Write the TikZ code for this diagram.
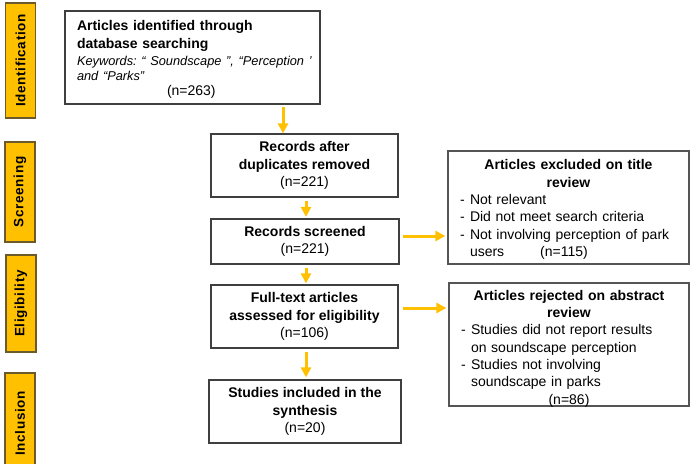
\documentclass[tikz,border=0pt]{standalone}
\usepackage{fontspec}
\setmainfont{Liberation Sans}
\usetikzlibrary{arrows.meta}
\definecolor{gold}{HTML}{FFC000}
\definecolor{sideborder}{HTML}{6B5A2A}
\definecolor{boxborder}{HTML}{3F3F3F}
\definecolor{rboxborder}{HTML}{555555}
\setlength{\parindent}{0pt}
\frenchspacing
\newcommand{\dsh}{\makebox[10pt][l]{-}}
\newcommand{\ind}{\hspace*{10pt}}
\begin{document}
\begin{tikzpicture}[x=1pt,y=-1pt,
  side/.style={draw=sideborder, fill=gold, line width=1.5pt, rotate=90, inner sep=0pt,
    minimum height=30pt, font=\bfseries\fontsize{13.5}{14}\selectfont\addfontfeature{LetterSpace=5}},
  bx/.style={draw=boxborder, line width=1.2pt, inner sep=0pt, align=center,
    font=\bfseries\fontsize{14}{17.5}\selectfont},
  frame/.style={draw=#1, line width=1.2pt, inner sep=0pt},
  rtxt/.style={inner sep=0pt, align=left, font=\fontsize{14}{17.3}\selectfont},
  arr/.style={draw=gold, line width=3pt, -{Triangle[width=10pt,length=10pt]}}]
\useasboundingbox (0,0) rectangle (693,463);
% side labels
\node[side, minimum width=115pt] (sid) at (20.5,60.5) {Identification};
\node[side, minimum width=100pt] (sscr) at (20,192) {Screening};
\node[side, minimum width=97pt] (selg) at (21,303.5) {Eligibility};
\node[side, minimum width=101pt] (sinc) at (20,423.5) {Inclusion};
% main column
\node[frame=boxborder, minimum width=255pt, minimum height=93pt] (b1) at (192.5,57.5) {};
\node[rtxt, text width=240pt] (t1) at (197,59.5) {%
  {\bfseries\fontsize{14}{17.5}\selectfont Articles identified through\\database searching\par}%
  \vspace{2pt}%
  {\itshape\fontsize{12.8}{15}\selectfont\frenchspacing Keywords: “ Soundscape ”, “Perception ’\\and “Parks”\par}%
  {\fontsize{14}{15}\selectfont\hspace*{90pt}(n=263)\par}};
\node[bx, minimum width=187pt, minimum height=63pt] (b2) at (304.5,165.5)
  {Records after\\duplicates removed\\{\mdseries (n=221)}};
\node[bx, minimum width=188pt, minimum height=45pt] (b3) at (305,241.5)
  {Records screened\\{\mdseries (n=221)}};
\node[bx, minimum width=187pt, minimum height=63pt] (b4) at (304.5,316.5)
  {Full-text articles\\assessed for eligibility\\{\mdseries (n=106)}};
\node[bx, minimum width=192pt, minimum height=63pt] (b5) at (305,411.5)
  {Studies included in the\\synthesis\\{\mdseries (n=20)}};
% right column
\node[frame=rboxborder, minimum width=241pt, minimum height=113pt] (b6) at (568.5,207.5) {};
\node[rtxt, text width=217pt] (t6) at (568.5,209.5) {%
  {\centering\bfseries Articles excluded on title\\review\par}%
  \dsh Not relevant\\
  \dsh Did not meet search criteria\\
  \dsh Not involving perception of park\\
  \ind users\hspace{36pt}(n=115)};
\node[frame=rboxborder, minimum width=240pt, minimum height=123pt] (b7) at (569,344.5) {};
\node[rtxt, text width=216pt] (t7) at (569,348.5) {%
  {\centering\bfseries Articles rejected on abstract\\review\par}%
  \dsh Studies did not report results\\
  \ind on soundscape perception\\
  \dsh Studies not involving\\
  \ind soundscape in parks\par
  {\centering (n=86)\par}};
% arrow guide coordinates
\coordinate (x1) at (283,0);
\coordinate (x2) at (306,0);
\coordinate (y1) at (0,236);
\coordinate (y2) at (0,308);
\draw[arr, shorten <=2.5pt] (b1.south -| x1) -- (b2.north -| x1);
\draw[arr, shorten <=3pt, shorten >=1.5pt] (b2.south -| x2) -- (b3.north -| x2);
\draw[arr, shorten <=3pt, shorten >=1pt] (b3.south -| x2) -- (b4.north -| x2);
\draw[arr, shorten <=3.5pt, shorten >=2pt] (b4.south -| x2) -- (b5.north -| x2);
\draw[arr, shorten <=3pt, shorten >=2pt] (b3.east |- y1) -- (b6.west |- y1);
\draw[arr, shorten <=4pt, shorten >=2pt] (b4.east |- y2) -- (b7.west |- y2);
\end{tikzpicture}
\end{document}
